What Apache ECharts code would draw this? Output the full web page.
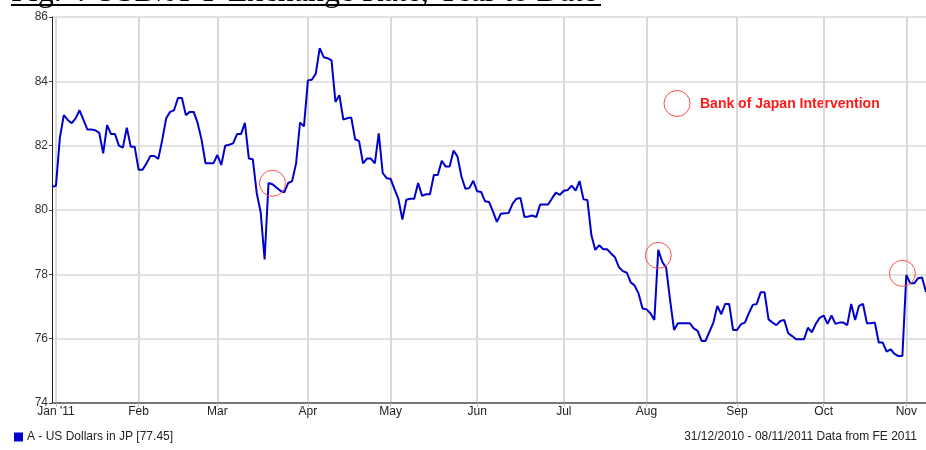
<!DOCTYPE html>
<html>
<head>
<meta charset="utf-8">
<script src="https://cdn.jsdelivr.net/npm/echarts@6/dist/echarts.min.js"></script>
<style>
html,body{margin:0;padding:0;background:#fff;}
#chart{width:926px;height:450px;}
</style>
</head>
<body>
<div id="chart"></div>
<script>
// ---- data (daily closes, weekdays 31/12/2010 .. 08/11/2011) ----
const seriesName = "A - US Dollars in JP [77.45]";
const rate = [
 80.72,80.75,82.25,82.95,82.8,82.7,82.85,83.1,82.8,82.5,
 82.5,82.48,82.4,81.76,82.64,82.36,82.36,82.0,81.94,82.56,
 81.97,81.97,81.25,81.25,81.45,81.68,81.68,81.59,82.18,82.85,
 83.05,83.1,83.48,83.48,82.95,83.05,83.05,82.7,82.18,81.45,
 81.45,81.45,81.71,81.4,82.0,82.03,82.07,82.36,82.36,82.71,
 81.6,81.58,80.53,79.93,78.46,80.84,80.8,80.7,80.6,80.55,
 80.84,80.9,81.45,82.72,82.6,84.03,84.05,84.24,85.03,84.75,
 84.72,84.65,83.36,83.57,82.81,82.85,82.88,82.2,82.14,81.45,
 81.6,81.6,81.45,82.38,81.15,80.99,80.97,80.65,80.34,79.7,
 80.32,80.35,80.35,80.84,80.44,80.49,80.49,81.09,81.09,81.53,
 81.35,81.35,81.85,81.66,81.04,80.66,80.68,80.91,80.58,80.56,
 80.27,80.25,79.96,79.63,79.88,79.9,79.91,80.2,80.35,80.37,
 79.78,79.8,79.83,79.78,80.17,80.17,80.17,80.36,80.54,80.47,
 80.6,80.62,80.76,80.6,80.9,80.33,80.31,79.22,78.76,78.91,
 78.78,78.78,78.65,78.53,78.22,78.1,78.05,77.75,77.65,77.4,
 76.94,76.91,76.79,76.58,78.76,78.39,78.2,77.2,76.27,76.48,
 76.48,76.48,76.48,76.32,76.24,75.93,75.93,76.22,76.5,77.02,
 76.76,77.08,77.08,76.27,76.27,76.45,76.5,76.79,77.05,77.08,
 77.44,77.44,76.6,76.5,76.42,76.55,76.58,76.17,76.08,75.98,
 75.98,75.98,76.34,76.2,76.46,76.65,76.72,76.46,76.72,76.46,
 76.5,76.5,76.42,77.08,76.58,77.02,77.08,76.48,76.48,76.5,
 75.88,75.88,75.6,75.67,75.53,75.46,75.46,77.98,77.72,77.72,
 77.88,77.9,77.45
];
const monthLabels = ["Jan '11","Feb","Mar","Apr","May","Jun","Jul","Aug","Sep","Oct","Nov","Dec"];
const yTicks = {min:74, max:86, step:2};
// Bank of Japan intervention markers (trading-day index, level)
const interventionIdx = [56, 154, 216];
const interventionVal = [80.83, 78.59, 78.03];
const titleText = "Fig. 4 USD/JPY Exchange Rate, Year to Date";
const sourceText = "31/12/2010 - 08/11/2011 Data from FE 2011";
const annotationText = "Bank of Japan Intervention";

// ---- categories: weekdays in the range ----
const dates = [];
(function(){
  const d = new Date(Date.UTC(2010,11,31));
  const end = Date.UTC(2011,10,8);
  while (d.getTime() <= end) {
    const wd = d.getUTCDay();
    if (wd !== 0 && wd !== 6) dates.push(d.toISOString().slice(0,10));
    d.setUTCDate(d.getUTCDate()+1);
  }
})();
const monthStart = new Set();
for (let i = 1; i < dates.length; i++) {
  if (dates[i].slice(5,7) !== dates[i-1].slice(5,7)) monthStart.add(i);
}
const isMonthStart = (idx) => monthStart.has(idx);

const FONT = '"Liberation Sans", Arial, sans-serif';
const chart = echarts.init(document.getElementById('chart'), null, {renderer:'canvas'});
chart.setOption({
  animation: false,
  backgroundColor: '#fff',
  grid: {left: 52, right: 0, top: 17, bottom: 47, containLabel: false},
  legend: {
    left: 14, top: 431, padding: 0, icon: 'rect', itemWidth: 9, itemHeight: 9, itemGap: 10,
    selectedMode: false,
    textStyle: {fontFamily: FONT, fontSize: 12, color: '#222', padding: [0,0,0,-1]},
    data: [seriesName]
  },
  xAxis: {
    type: 'category', data: dates, boundaryGap: false,
    axisLine: {lineStyle: {color: '#555', width: 1.5}},
    axisTick: {show: true, interval: isMonthStart, length: 4, lineStyle: {color: '#bbb'}},
    axisLabel: {
      interval: isMonthStart, margin: 3, fontFamily: FONT, fontSize: 12, color: '#222',
      formatter: (v) => monthLabels[parseInt(v.slice(5,7),10)-1]
    },
    splitLine: {show: true, interval: isMonthStart, lineStyle: {color: '#d9d9d9', width: 2}}
  },
  yAxis: {
    type: 'value', min: yTicks.min, max: yTicks.max, interval: yTicks.step,
    axisLine: {show: true, lineStyle: {color: '#222', width: 1}},
    axisTick: {show: true, length: 3, lineStyle: {color: '#444'}},
    axisLabel: {margin: 4, fontFamily: FONT, fontSize: 12, color: '#333'},
    splitLine: {show: true, lineStyle: {color: '#d9d9d9', width: 1.5}}
  },
  series: [{
    name: seriesName, type: 'line', data: rate, showSymbol: false, symbol: 'none',
    lineStyle: {color: '#0000cc', width: 2}, itemStyle: {color: '#0000cc'},
    silent: true,
    markPoint: {
      silent: true, symbol: 'circle', symbolSize: 26,
      itemStyle: {color: 'rgba(0,0,0,0)', borderColor: '#ff4d4d', borderWidth: 1},
      label: {show: false},
      data: interventionIdx.map((idx, k) => ({coord: [dates[idx], interventionVal[k]]}))
    }
  }],
  graphic: [
    {type: 'text', silent: true, style: {text: titleText, x: 11, y: -7, font: '32px "Liberation Serif", "Times New Roman", serif', fill: '#000', align: 'left', verticalAlign: 'middle', textAlign: 'left', textVerticalAlign: 'middle'}},
    {type: 'rect', silent: true, shape: {x: 11, y: 4, width: 590, height: 2}, style: {fill: '#000'}},
    {type: 'circle', silent: true, shape: {cx: 677, cy: 103.5, r: 13}, style: {fill: 'none', stroke: '#ff4d4d', lineWidth: 1}},
    {type: 'text', silent: true, style: {text: annotationText, x: 700, y: 104, font: 'bold 14px "Liberation Sans", Arial, sans-serif', fill: '#ff1a1a', align: 'left', verticalAlign: 'middle', textAlign: 'left', textVerticalAlign: 'middle'}},
    {type: 'text', silent: true, style: {text: sourceText, x: 917, y: 437, font: '12px "Liberation Sans", Arial, sans-serif', fill: '#222', align: 'right', verticalAlign: 'middle', textAlign: 'right', textVerticalAlign: 'middle'}}
  ]
});
</script>
</body>
</html>
